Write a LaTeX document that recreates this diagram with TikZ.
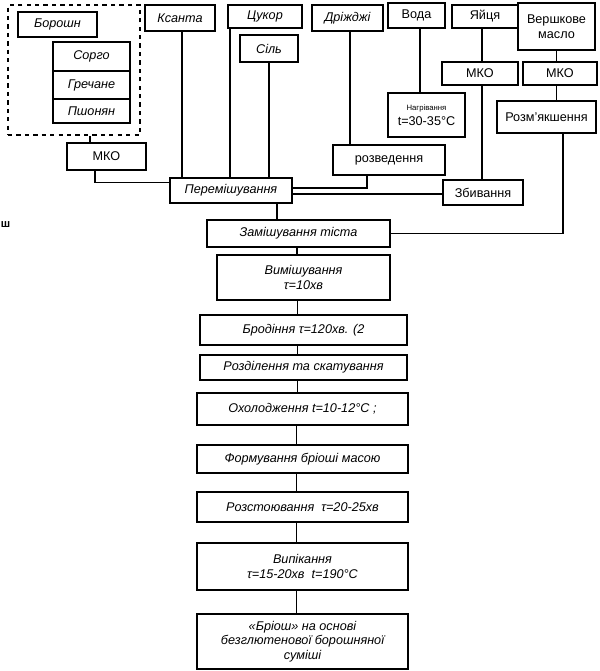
\documentclass[tikz,border=0pt]{standalone}
\usepackage{fontspec}
\setmainfont{Liberation Sans}
\usetikzlibrary{arrows.meta}

\tikzset{bx/.style={draw,fill=white,line width=1.25pt,font=\itshape\fontsize{9}{10.5}\selectfont,align=center,inner sep=1pt},
  up/.style={font=\fontsize{9}{10.5}\selectfont},
  bw/.style={minimum width=#1*0.025cm},
  bh/.style={minimum height=#1*0.025cm}}

\begin{document}
\begin{tikzpicture}[x=0.025cm,y=-0.025cm,line width=1.25pt]
\useasboundingbox (0,0) rectangle (599,671);
% flour group
\node[draw,dashed,line width=1pt,bw=132,bh=130] (grp) at (74,70) {};
\node[bx,bw=79,bh=25] (bor) at (57.5,24.5) {Борошн};
\node[bx,bw=77,bh=29] (sorgo) at (91.5,56.5) {Сорго};
\node[bx,bw=77,bh=28] (grech) at (91.5,85) {Гречане};
\node[bx,bw=77,bh=24] (pshon) at (91.5,111) {Пшонян};
\node[bx,up,bw=79,bh=27] (mkoa) at (106.5,156.5) {МКО};
% top row
\node[bx,bw=70,bh=26] (ksant) at (180,18) {Ксанта};
\node[bx,bw=74,bh=23] (tsukor) at (265,16.5) {Цукор};
\node[bx,bw=58,bh=27] (sil) at (269,48.5) {Сіль};
\node[bx,bw=71,bh=26] (drizh) at (347.5,18) {Дріжджі};
\node[bx,up,bw=57,bh=25] (voda) at (416.5,15.5) {Вода};
\node[bx,up,bw=77,bh=44] (nagr) at (426.5,115) {{\fontsize{5.5}{7}\selectfont Нагрівання}\\t=30-35°C};
\node[bx,up,bw=66,bh=23] (yaits) at (485,16.5) {Яйця};
\node[bx,up,bw=77,bh=47] (versh) at (556.5,26.5) {Вершкове\\масло};
\node[bx,up,bw=76,bh=23] (mkob) at (480,73.5) {МКО};
\node[bx,up,bw=74,bh=23] (mkoc) at (560,73.5) {МКО};
\node[bx,up,bw=99,bh=32] (rozm) at (546.5,117) {Розм'якшення};
\node[bx,up,bw=112,bh=30] (rozv) at (389,160) {розведення};
\node[bx,up,bw=80,bh=25] (zbyv) at (483,192.5) {Збивання};
\node[bx,bw=122,bh=25] (perem) at (231,190.5) {Перемішування};
% main column
\node[bx,bw=183,bh=27] (zamish) at (298.5,233.5) {Замішування тіста};
\node[bx,bw=173,bh=45] (vymish) at (303.5,277.5) {Вимішування\\τ=10хв};
\node[bx,bw=207,bh=30] (brod) at (303.5,330) {Бродіння τ=120хв. (2};
\node[bx,bw=207,bh=25] (rozdil) at (303.5,367.5) {Розділення та скатування};
\node[bx,bw=211,bh=32] (okhol) at (302.5,409) {Охолодження t=10-12°C ;};
\node[bx,bw=211,bh=28] (form) at (302.5,459) {Формування бріоші масою};
\node[bx,bw=211,bh=30] (rozst) at (302.5,507) {Розстоювання \ τ=20-25хв};
\node[bx,bw=211,bh=47] (vypik) at (302.5,566.5) {Випікання\\τ=15-20хв \ t=190°C};
\node[bx,bw=211,bh=55] (brios) at (302.5,641.5) {«Бріош» на основі\\безглютенової борошняної\\суміші};
\node[font=\bfseries\fontsize{8}{9}\selectfont,anchor=west,inner sep=0pt] (frag) at (0,225) {ш};
% connectors
\draw ([xshift=-0.41cm]mkoa.north) -- ([xshift=-0.41cm]mkoa.north |- grp.south);
\draw ([xshift=-0.29cm]mkoa.south) |- ([yshift=0.2cm]perem.west);
\draw ([xshift=0.05cm]ksant.south) -- ([xshift=0.05cm]ksant.south |- perem.north);
\draw ([xshift=2pt]tsukor.south west) -- ([xshift=2pt]tsukor.south west |- perem.north);
\draw (sil.south) -- (sil.south |- perem.north);
\draw ([xshift=0.06cm]drizh.south) -- ([xshift=0.06cm]drizh.south |- rozv.north);
\draw ([xshift=0.09cm]voda.south) -- ([xshift=0.09cm]voda.south |- nagr.north);
\draw ([xshift=0.05cm]mkob.north |- yaits.south) -- ([xshift=0.05cm]mkob.north);
\draw ([xshift=0.05cm]mkob.south) -- ([xshift=0.05cm]mkob.south |- zbyv.north);
\draw (versh.south) -- (versh.south |- mkoc.north);
\draw (versh.south |- mkoc.south) -- (versh.south |- rozm.north);
\draw ([xshift=0.41cm]rozm.south) |- (zamish.east);
\draw ([xshift=-0.55cm]rozv.south) |- ([yshift=0.06cm]perem.east);
\draw ([yshift=-0.03cm]zbyv.west) -- ([yshift=-0.03cm]zbyv.west -| perem.east);
\draw ([xshift=-0.54cm]zamish.north) -- ([xshift=-0.54cm]zamish.north |- perem.south);
\draw ([xshift=-0.16cm]vymish.north) -- ([xshift=-0.16cm]vymish.north |- zamish.south);
\foreach \a/\b in {vymish/brod,brod/rozdil,rozdil/okhol,okhol/form,form/rozst,rozst/vypik,vypik/brios}
  \draw ([xshift=-0.15cm]\a.south) -- ([xshift=-0.15cm]\a.south |- \b.north);
\end{tikzpicture}
\end{document}
